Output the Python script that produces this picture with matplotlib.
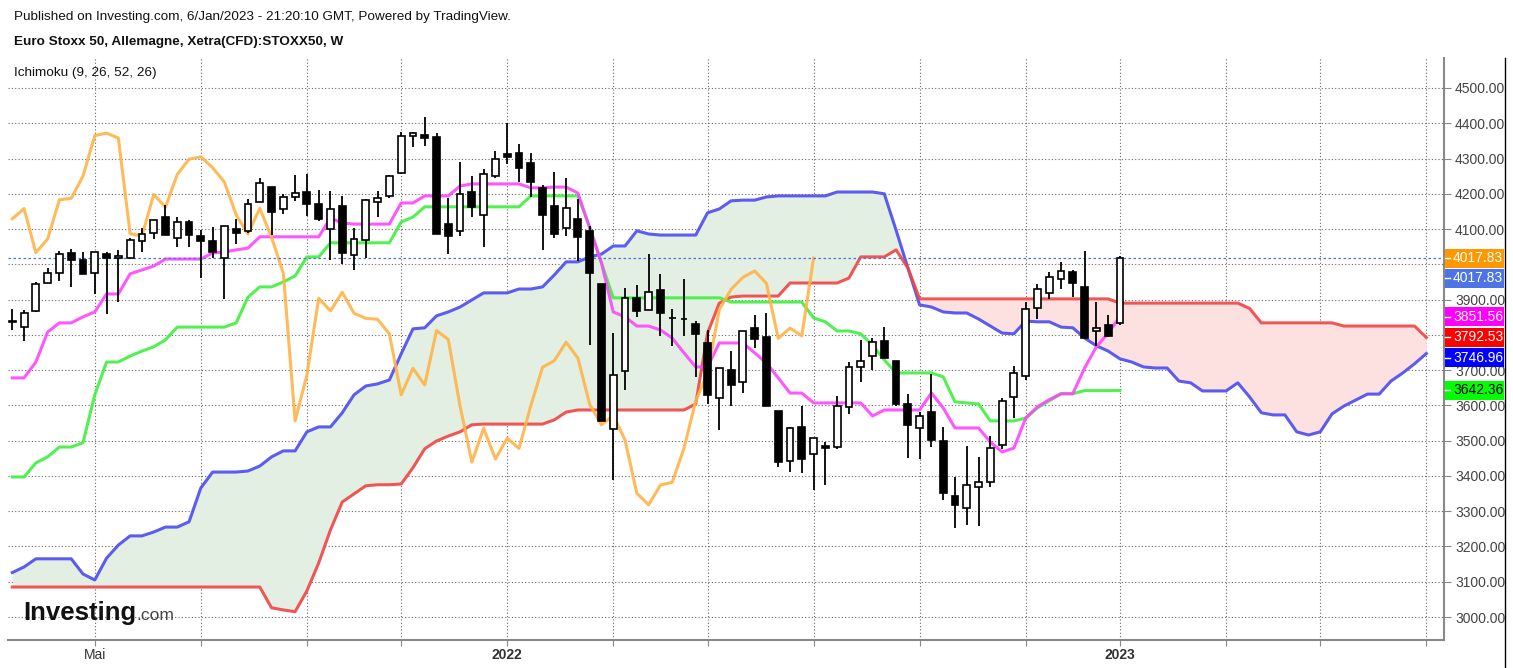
import numpy as np
import matplotlib
matplotlib.use("Agg")
import matplotlib.pyplot as plt
from matplotlib.lines import Line2D
from matplotlib.patches import Rectangle
import matplotlib.transforms as mtransforms

plt.rcParams['font.family'] = ['Liberation Sans', 'DejaVu Sans']

# weekly candles, Euro Stoxx 50 (index 0 = week of 15 Mar 2021, 94 = week of 2 Jan 2023)
opens = [3836, 3822, 3868, 3948, 3976, 4031, 4012, 3975, 4030, 4017, 4019, 4067, 4088, 4133, 4076, 4119,
         4080, 4067, 4017, 4101, 4095, 4176, 4220, 4158, 4190, 4206, 4172, 4101, 4166, 4027, 4070, 4176,
         4193, 4259, 4363, 4367, 4362, 4115, 4095, 4206, 4141, 4251, 4312, 4315, 4286, 4216, 4165, 4104,
         4128, 4095, 3943, 3532, 3698, 3904, 3871, 3927, 3849, 3846, 3830, 3776, 3620, 3699, 3667, 3819,
         3793, 3585, 3443, 3540, 3461, 3485, 3481, 3595, 3708, 3740, 3784, 3727, 3603, 3535, 3580, 3499,
         3344, 3308, 3368, 3382, 3488, 3623, 3684, 3875, 3918, 3958, 3977, 3935, 3811, 3828, 3833]
highs = [3874, 3870, 3950, 3989, 4039, 4043, 4034, 4034, 4034, 4042, 4074, 4103, 4127, 4167, 4134, 4127,
         4098, 4106, 4110, 4128, 4184, 4244, 4220, 4198, 4252, 4257, 4212, 4208, 4195, 4103, 4186, 4208,
         4253, 4374, 4374, 4417, 4371, 4189, 4290, 4251, 4270, 4320, 4400, 4340, 4315, 4225, 4263, 4244,
         4184, 4109, 3943, 3805, 3932, 3940, 4028, 3973, 3873, 3958, 3838, 3814, 3705, 3755, 3812, 3856,
         3861, 3585, 3540, 3597, 3507, 3495, 3628, 3724, 3785, 3790, 3823, 3727, 3632, 3580, 3688, 3540,
         3398, 3485, 3455, 3513, 3620, 3713, 3894, 3943, 3979, 4006, 3984, 4039, 3894, 3856, 4024]
lows = [3814, 3782, 3865, 3946, 3953, 3936, 3972, 3917, 3858, 3893, 4017, 4036, 4072, 4082, 4050, 4050,
        3960, 4017, 3903, 4057, 4090, 4176, 4084, 4144, 4179, 4136, 4122, 4013, 4002, 3985, 4017, 4133,
        4189, 4257, 4333, 4336, 4087, 4030, 4079, 4133, 4048, 4246, 4284, 4234, 4192, 4041, 4074, 4079,
        4008, 3771, 3556, 3389, 3644, 3850, 3871, 3797, 3767, 3797, 3680, 3604, 3530, 3597, 3636, 3762,
        3598, 3425, 3412, 3409, 3360, 3375, 3477, 3576, 3667, 3700, 3734, 3597, 3452, 3448, 3483, 3332,
        3252, 3261, 3258, 3370, 3476, 3565, 3672, 3845, 3902, 3930, 3908, 3787, 3767, 3795, 3828]
closes = [3838, 3862, 3945, 3976, 4030, 4012, 3972, 4034, 4017, 4024, 4070, 4087, 4127, 4082, 4119, 4084,
          4067, 4034, 4110, 4088, 4172, 4230, 4148, 4190, 4201, 4170, 4129, 4158, 4033, 4072, 4183, 4187,
          4250, 4365, 4372, 4358, 4087, 4080, 4198, 4162, 4255, 4298, 4305, 4274, 4233, 4140, 4086, 4159,
          4077, 3975, 3556, 3686, 3904, 3868, 3921, 3861, 3847, 3844, 3803, 3630, 3705, 3658, 3812, 3787,
          3598, 3439, 3535, 3448, 3507, 3478, 3599, 3708, 3727, 3779, 3734, 3603, 3545, 3571, 3502, 3351,
          3318, 3374, 3382, 3478, 3613, 3691, 3872, 3929, 3963, 3981, 3946, 3790, 3819, 3797, 4017.83]

tenkan = [3678, 3678, 3723, 3808, 3834, 3834, 3851, 3865, 3916, 3916, 3973, 3984, 3995, 4015, 4015, 4015,
          4015, 4032, 4035, 4041, 4046, 4078, 4078, 4078, 4078, 4078, 4078, 4131, 4117, 4114, 4114, 4114,
          4114, 4174, 4174, 4194, 4194, 4194, 4222, 4228, 4228, 4228, 4228, 4228, 4217, 4217, 4219, 4219,
          4202, 4103, 4004, 3865, 3851, 3825, 3825, 3814, 3791, 3749, 3709, 3709, 3777, 3777, 3777, 3749,
          3720, 3678, 3635, 3635, 3607, 3607, 3607, 3607, 3607, 3570, 3587, 3587, 3587, 3587, 3635, 3593,
          3536, 3536, 3536, 3496, 3468, 3479, 3564, 3596, 3616, 3633, 3633, 3706, 3766, 3805, 3851.56]
kijun = [3397, 3397, 3437, 3454, 3482, 3482, 3494, 3630, 3723, 3723, 3740, 3754, 3766, 3786, 3822, 3822,
         3822, 3822, 3822, 3834, 3907, 3936, 3936, 3950, 3967, 4021, 4021, 4061, 4061, 4061, 4061, 4061,
         4061, 4120, 4134, 4163, 4163, 4163, 4163, 4163, 4163, 4163, 4163, 4163, 4194, 4194, 4194, 4194,
         4194, 4106, 4004, 3905, 3905, 3905, 3905, 3905, 3905, 3905, 3905, 3905, 3905, 3893, 3893, 3893,
         3893, 3893, 3893, 3893, 3848, 3837, 3811, 3811, 3803, 3771, 3729, 3692, 3692, 3692, 3692, 3681,
         3610, 3607, 3604, 3556, 3556, 3556, 3564, 3593, 3613, 3633, 3633, 3642, 3642, 3642, 3642.36]
senkou_a = [3126, 3142, 3165, 3165, 3165, 3165, 3122, 3105, 3167, 3204, 3230, 3230, 3241, 3255, 3255, 3270,
            3366, 3411, 3411, 3411, 3414, 3428, 3454, 3471, 3471, 3525, 3539, 3539, 3579, 3630, 3655, 3661,
            3672, 3746, 3817, 3820, 3854, 3865, 3879, 3899, 3919, 3919, 3919, 3930, 3930, 3936, 3970, 4007,
            4007, 4021, 4029, 4052, 4052, 4095, 4086, 4083, 4083, 4083, 4083, 4146, 4157, 4180, 4182, 4182,
            4191, 4194, 4194, 4194, 4194, 4194, 4205, 4205, 4205, 4205, 4200, 4097, 3990, 3885, 3879, 3865,
            3862, 3862, 3845, 3825, 3805, 3803, 3839, 3837, 3837, 3822, 3820, 3791, 3769, 3754, 3732, 3723,
            3709, 3706, 3706, 3669, 3664, 3641, 3641, 3641, 3664, 3624, 3579, 3573, 3573, 3525, 3516, 3525,
            3576, 3598, 3615, 3632, 3632, 3669, 3692, 3718, 3746.96]
senkou_b = [3085, 3085, 3085, 3085, 3085, 3085, 3085, 3085, 3085, 3085, 3085, 3085, 3085, 3085, 3085, 3085,
            3085, 3085, 3085, 3085, 3085, 3085, 3026, 3020, 3015, 3074, 3153, 3247, 3326, 3349, 3372, 3375,
            3375, 3377, 3423, 3477, 3499, 3513, 3525, 3545, 3547, 3547, 3547, 3547, 3547, 3547, 3559, 3581,
            3587, 3587, 3587, 3587, 3587, 3587, 3587, 3587, 3587, 3587, 3604, 3805, 3890, 3907, 3910, 3910,
            3910, 3910, 3947, 3947, 3947, 3947, 3947, 3961, 4021, 4021, 4021, 4041, 3990, 3902, 3902, 3902,
            3902, 3902, 3902, 3902, 3902, 3902, 3902, 3902, 3902, 3902, 3902, 3902, 3902, 3902, 3890, 3890,
            3890, 3890, 3890, 3890, 3890, 3890, 3890, 3890, 3890, 3875, 3834, 3834, 3834, 3834, 3834, 3834,
            3834, 3825, 3825, 3825, 3825, 3825, 3825, 3825, 3792.53]

price_ticks = list(range(3000, 4501, 100))
price_labels = ['' if p in (3800, 4000) else '%.2f' % p for p in price_ticks]
tick_pos = [7, 16, 25, 33, 42, 51, 59, 68, 77, 86, 94, 103, 111, 120]
tick_lab = ['Mai', '', '', '', '2022', '', '', '', '', '', '2023', '', '', '']

W, H = 1513, 668
fig = plt.figure(figsize=(W / 100, H / 100), dpi=100)
ax = fig.add_axes([8 / W, 28 / H, 1436 / W, 582 / H])

o = np.array(opens, float)
h = np.array(highs, float)
l = np.array(lows, float)
c = np.array(closes, float)
xc = np.arange(len(c))
xf = np.arange(len(senkou_a))
sa = np.array(senkou_a, float)
sb = np.array(senkou_b, float)

# cloud
ax.fill_between(xf, sa, sb, where=sa >= sb, interpolate=True, color='#e3efe3', lw=0, zorder=1)
ax.fill_between(xf, sa, sb, where=sa < sb, interpolate=True, color='#fde1e1', lw=0, zorder=1)

lw = 2.2
ax.plot(xf, sa, color='#4b4bf0', lw=lw, alpha=0.9, zorder=2)
ax.plot(xf, sb, color='#f04545', lw=lw, alpha=0.9, zorder=2)
ax.plot(xc, kijun, color='#3ff03f', lw=lw, alpha=0.9, zorder=2)
ax.plot(xc, tenkan, color='#ff45ff', lw=lw, alpha=0.9, zorder=2)
# lagging span: closes drawn 26 weeks back
ax.plot(xc[:len(c) - 26], c[26:], color='#ffb347', lw=lw, alpha=0.9, zorder=2)

ax.axhline(closes[-1], color='#4a6fe3', lw=0.9, ls=(0, (2, 2)), zorder=2)

# candles
up = c >= o
ax.vlines(xc, l, h, color='black', lw=1.3, zorder=4)
ax.bar(xc[up], (c - o)[up], bottom=o[up], width=0.58, facecolor='white', edgecolor='black', lw=1.2, zorder=5)
ax.bar(xc[~up], (o - c)[~up], bottom=c[~up], width=0.58, facecolor='black', edgecolor='black', lw=1.2, zorder=5)

ax.set_xlim(-0.365, 121.5)
ax.set_ylim(2934.8, 4585.0)
ax.set_yticks(price_ticks)
ax.set_yticklabels(price_labels)
ax.yaxis.tick_right()
ax.tick_params(axis='y', length=5, color='#888888', labelsize=10, labelcolor='#444444', pad=3)
ax.set_xticks(tick_pos)
ax.set_xticklabels(tick_lab)
ax.tick_params(axis='x', length=4, color='#888888', labelsize=10, labelcolor='#333333', pad=2)
for t in ax.get_xticklabels():
    if t.get_text() in ('2022', '2023'):
        t.set_fontweight('bold')
ax.grid(True, color='#666666', ls=(0, (1, 2)), lw=0.8, zorder=0)
ax.set_axisbelow(True)
for s in ('left', 'top'):
    ax.spines[s].set_visible(False)
for s in ('bottom', 'right'):
    ax.spines[s].set_color('#888888')
    ax.spines[s].set_linewidth(1.5)

# last-value boxes on the price scale
tr = mtransforms.blended_transform_factory(fig.transFigure, ax.transData)
boxh = 19 * 2.8355
boxes = [(4017.83, '4017.83', '#ff9800', 'white'),
         (3961.1, '4017.83', '#4c74e6', 'white'),
         (3851.56, '3851.56', '#ff00ff', 'white'),
         (3792.53, '3792.53', '#ff0000', 'white'),
         (3734.5, '3746.96', '#0000ff', 'white'),
         (3642.36, '3642.36', '#00ff00', 'black')]
for yv, txt, fc, tc in boxes:
    fig.add_artist(Rectangle((1445 / W, yv - boxh / 2), 59 / W, boxh, transform=tr,
                             facecolor=fc, edgecolor='none', zorder=5))
    fig.add_artist(Line2D([1445 / W, 1450 / W], [yv, yv], transform=tr, color='white', lw=1, zorder=6))
    fig.text(1453 / W, yv, txt, transform=tr, color=tc, fontsize=10, va='center', ha='left', zorder=7)

fig.add_artist(Line2D([1505 / W] * 2, [0, 1 - 58 / H], color='black', lw=1.0))

fig.text(14 / W, 1 - 17 / H, 'Published on Investing.com, 6/Jan/2023 - 21:20:10 GMT, Powered by TradingView.',
         fontsize=9.7, color='#111111', va='center')
fig.text(14 / W, 1 - 42 / H, 'Euro Stoxx 50, Allemagne, Xetra(CFD):STOXX50, W',
         fontsize=9.7, fontweight='bold', color='#111111', va='center')
fig.text(14 / W, 1 - 73 / H, 'Ichimoku (9, 26, 52, 26)', fontsize=9.7, color='#111111', va='center')

logo = fig.text(23 / W, 1 - 620 / H, 'Investing', fontsize=18.5, fontweight='bold', color='#111111',
                va='baseline')
fig.canvas.draw()
bb = logo.get_window_extent()
fig.text(bb.x1 / W, 1 - 620 / H, '.com', fontsize=12.5, color='#444444', va='baseline')

fig.savefig('out.png', dpi=100)
